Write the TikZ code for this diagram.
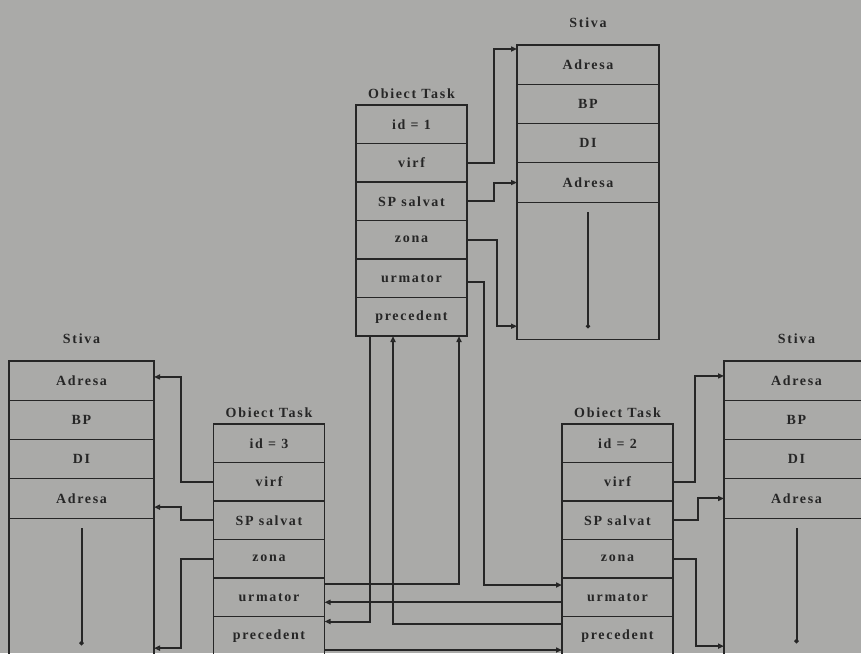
\documentclass[tikz,border=0pt]{standalone}
\usepackage{fontspec}
\setmainfont{Liberation Serif}[LetterSpace=12]
\usetikzlibrary{arrows.meta,positioning,calc}
\definecolor{paperGray}{RGB}{170,170,168}
\definecolor{inkGray}{RGB}{38,38,38}

\begin{document}
\begin{tikzpicture}[x=1pt, y=-1pt,
  row/.style={rectangle, draw=inkGray, line width=1.1pt,
              minimum width=111pt, minimum height=38.5pt,
              outer sep=0pt, inner sep=0pt, text=inkGray,
              font=\fontsize{14}{16}\selectfont\bfseries},
  cell/.style={row, minimum width=#1, minimum height=39.3pt},
  stacktail/.style={row, minimum width=#1, minimum height=137pt},
  title/.style={font=\fontsize{14}{16}\selectfont\bfseries, text=inkGray},
  arr/.style={-{Triangle[open, length=6pt, width=5pt]},
              line width=2pt, inkGray},
  tailline/.style={-{Circle[open, length=4pt]}, line width=2pt, inkGray}
]
  \useasboundingbox (0,0) rectangle (861,653);
  \fill[paperGray] (0,0) rectangle (861,653);

  % top stack and task 1
  \node[cell=142pt] (s1-a1) at (588,64.65) {Adresa};
  \node[cell=142pt, below=0pt of s1-a1] (s1-bp) {BP};
  \node[cell=142pt, below=0pt of s1-bp] (s1-di) {DI};
  \node[cell=142pt, below=0pt of s1-di] (s1-a2) {Adresa};
  \node[stacktail=142pt, below=0pt of s1-a2] (s1-tail) {};
  \node[title, above=14pt of s1-a1] (s1-title) {Stiva};

  \node[row] (t1-id) at (411.5,124.25) {id = 1};
  \node[row, below=0pt of t1-id] (t1-virf) {virf};
  \node[row, below=0pt of t1-virf] (t1-sp) {SP salvat};
  \node[row, below=0pt of t1-sp] (t1-zona) {zona};
  \node[row, below=0pt of t1-zona] (t1-urm) {urmator};
  \node[row, below=0pt of t1-urm] (t1-prec) {precedent};
  \node[title, above=3pt of t1-id] (t1-title) {Obiect Task};

  % left stack and task 3
  \node[cell=145pt, minimum height=39.25pt] (s3-a1) at (81.5,380.6) {Adresa};
  \node[cell=145pt, below=0pt of s3-a1] (s3-bp) {BP};
  \node[cell=145pt, below=0pt of s3-bp] (s3-di) {DI};
  \node[cell=145pt, below=0pt of s3-di] (s3-a2) {Adresa};
  \node[stacktail=145pt, minimum height=145pt, below=0pt of s3-a2] (s3-tail) {};
  \node[title, above=14pt of s3-a1] (s3-title) {Stiva};

  \node[row] (t3-id) at (269,443.25) {id = 3};
  \node[row, below=0pt of t3-id] (t3-virf) {virf};
  \node[row, below=0pt of t3-virf] (t3-sp) {SP salvat};
  \node[row, below=0pt of t3-sp] (t3-zona) {zona};
  \node[row, below=0pt of t3-zona] (t3-urm) {urmator};
  \node[row, below=0pt of t3-urm] (t3-prec) {precedent};
  \node[title, above=3pt of t3-id] (t3-title) {Obiect Task};

  % right stack and task 2
  \node[cell=145pt, minimum height=39.25pt] (s2-a1) at (796.5,380.6) {Adresa};
  \node[cell=145pt, below=0pt of s2-a1] (s2-bp) {BP};
  \node[cell=145pt, below=0pt of s2-bp] (s2-di) {DI};
  \node[cell=145pt, below=0pt of s2-di] (s2-a2) {Adresa};
  \node[stacktail=145pt, minimum height=145pt, below=0pt of s2-a2] (s2-tail) {};
  \node[title, above=14pt of s2-a1] (s2-title) {Stiva};

  \node[row] (t2-id) at (617.5,443.25) {id = 2};
  \node[row, below=0pt of t2-id] (t2-virf) {virf};
  \node[row, below=0pt of t2-virf] (t2-sp) {SP salvat};
  \node[row, below=0pt of t2-sp] (t2-zona) {zona};
  \node[row, below=0pt of t2-zona] (t2-urm) {urmator};
  \node[row, below=0pt of t2-urm] (t2-prec) {precedent};
  \node[title, above=3pt of t2-id] (t2-title) {Obiect Task};

  % stack growth lines
  \draw[tailline] ($(s1-tail.north)+(0,10)$) -- ($(s1-tail.south)+(0,-11)$);
  \draw[tailline] ($(s3-tail.north)+(0,10)$) -- ($(s3-tail.north)+(0,127)$);
  \draw[tailline] ($(s2-tail.north)+(0,10)$) -- ($(s2-tail.north)+(0,125)$);

  % task 1 -> its stack
  \draw[arr] (t1-virf.east) -- ++(27,0) |- ($(s1-a1.north west)+(0,4)$);
  \draw[arr] (t1-sp.east) -- ++(27,0) |- (s1-a2.west);
  \draw[arr] (t1-zona.east) -- ++(30,0) |- ($(s1-tail.south west)+(0,-13)$);

  % task 3 -> its stack
  \draw[arr] (t3-virf.west) -- ++(-33,0) |- ($(s3-a1.north east)+(0,16)$);
  \draw[arr] (t3-sp.west) -- ++(-33,0) |- ($(s3-a2.south east)+(0,-11)$);
  \draw[arr] (t3-zona.west) -- ++(-33,0) |- ($(s3-tail.north east)+(0,130)$);

  % task 2 -> its stack
  \draw[arr] (t2-virf.east) -- ++(22,0) |- ($(s2-a1.north west)+(0,15)$);
  \draw[arr] (t2-sp.east) -- ++(25,0) |- (s2-a2.west);
  \draw[arr] (t2-zona.east) -- ++(23,0) |- ($(s2-tail.north west)+(0,128)$);

  % urmator / precedent ring
  \draw[arr] ($(t1-urm.east)+(0,4)$) -- ++(17,0) |- ($(t2-urm.north west)+(0,7)$);
  \draw[arr] ($(t3-urm.north east)+(0,6)$) -| ($(t1-prec.south west)+(103,0)$);
  \draw[arr] ($(t2-urm.west)+(0,5)$) -- ($(t3-urm.east)+(0,5)$);
  \draw[arr] ($(t1-prec.south west)+(14,0)$) |- ($(t3-prec.north east)+(0,5)$);
  \draw[arr] ($(t2-prec.north west)+(0,7)$) -| ($(t1-prec.south west)+(37,0)$);
  \draw[arr] ($(t3-prec.south east)+(0,-5)$) -- ($(t2-prec.south west)+(0,-5)$);
\end{tikzpicture}
\end{document}
